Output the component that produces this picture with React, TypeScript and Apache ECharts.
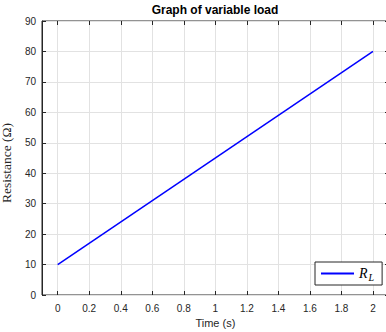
import React, { useEffect, useRef } from "react";
import * as echarts from "echarts";

const timeSeconds = [0, 2];
const resistanceOhm = [10, 80];
const seriesName = "R_L";
const titleText = "Graph of variable load";
const xAxisTitle = "Time (s)";
const yAxisTitle = "Resistance (\u03A9)";
const xRange = { min: -0.1, max: 2.1, dataMin: 0, dataMax: 2, step: 0.2 };
const yRange = { min: 0, max: 90, step: 10 };

export default function App() {
  const ref = useRef<HTMLDivElement>(null);
  useEffect(() => {
    const chart = echarts.init(ref.current!, null, { renderer: "svg" });
    const axisColor = "#262626";
    const gridColor = "#e2e2e2";
    const sans = "'Liberation Sans', Arial, Helvetica, sans-serif";
    const serif = "'Liberation Serif', 'Times New Roman', serif";
    const tick = { show: true, inside: true, length: 4, lineStyle: { color: axisColor, width: 1 } };
    chart.setOption({
      animation: false,
      backgroundColor: "#ffffff",
      title: {
        text: titleText,
        left: 215,
        textAlign: "center",
        top: 4,
        padding: 0,
        textStyle: { fontFamily: sans, fontSize: 12, fontWeight: "bold", color: "#000" },
      },
      legend: {
        left: 315,
        top: 262,
        data: [{ name: seriesName, icon: "rect" }],
        itemWidth: 33,
        itemHeight: 2,
        padding: [3, 8, 3, 6],
        backgroundColor: "#ffffff",
        borderColor: axisColor,
        borderWidth: 1,
        borderRadius: 0,
        selectedMode: false,
        itemStyle: { color: "#0000ff" },
        formatter: () => "{r|R}{s|L}",
        textStyle: {
          rich: {
            r: { fontFamily: serif, fontStyle: "italic", fontSize: 14, color: "#000", lineHeight: 17 },
            s: { fontFamily: serif, fontStyle: "italic", fontSize: 10, color: "#000", padding: [7, 0, 0, 1], lineHeight: 10 },
          },
        },
      },
      grid: [
        { left: 42, top: 21, right: -3, bottom: 37, outerBoundsMode: "none", containLabel: false, show: true, borderColor: axisColor, borderWidth: 1, backgroundColor: "transparent" },
        { left: 57.7, top: 21, right: 13, bottom: 37, outerBoundsMode: "none", containLabel: false },
      ],
      xAxis: [
        { gridIndex: 0, type: "value", min: xRange.min, max: xRange.max, show: false },
        {
          gridIndex: 1,
          type: "value",
          min: xRange.dataMin,
          max: xRange.dataMax,
          interval: xRange.step,
          position: "bottom",
          axisLine: { show: false, onZero: false },
          axisTick: tick,
          axisLabel: { color: axisColor, fontFamily: sans, fontSize: 10, margin: 8 },
          splitLine: { show: true, lineStyle: { color: gridColor, width: 1 } },
          name: xAxisTitle,
          nameLocation: "middle",
          nameGap: 22,
          nameTextStyle: { color: axisColor, fontFamily: sans, fontSize: 11 },
        },
        {
          gridIndex: 1,
          type: "value",
          min: xRange.dataMin,
          max: xRange.dataMax,
          interval: xRange.step,
          position: "top",
          axisLine: { show: false, onZero: false },
          axisTick: tick,
          axisLabel: { show: false },
          splitLine: { show: false },
        },
      ],
      yAxis: [
        {
          gridIndex: 0,
          type: "value",
          min: yRange.min,
          max: yRange.max,
          interval: yRange.step,
          position: "left",
          axisLine: { show: true, onZero: false, lineStyle: { color: axisColor, width: 1 } },
          axisTick: tick,
          axisLabel: { color: axisColor, fontFamily: sans, fontSize: 10, margin: 6 },
          splitLine: { show: true, lineStyle: { color: gridColor, width: 1 } },
          name: yAxisTitle,
          nameLocation: "middle",
          nameGap: 29,
          nameTextStyle: { color: axisColor, fontFamily: serif, fontSize: 13.5, padding: [0, 10, 0, 0] },
        },
        {
          gridIndex: 0,
          type: "value",
          min: yRange.min,
          max: yRange.max,
          interval: yRange.step,
          position: "right",
          axisLine: { show: true, onZero: false, lineStyle: { color: axisColor, width: 1 } },
          axisTick: tick,
          axisLabel: { show: false },
          splitLine: { show: false },
        },
        { gridIndex: 1, type: "value", min: yRange.min, max: yRange.max, show: false },
      ],
      series: [
        {
          type: "line",
          name: seriesName,
          xAxisIndex: 1,
          yAxisIndex: 2,
          data: timeSeconds.map((t, i) => [t, resistanceOhm[i]]),
          symbol: "none",
          lineStyle: { color: "#0000ff", width: 1.5 },
          itemStyle: { color: "#0000ff" },
        },
      ],
    });
    return () => chart.dispose();
  }, []);
  return <div ref={ref} style={{ position: "fixed", left: 0, top: 0, width: 386, height: 332 }} />;
}
